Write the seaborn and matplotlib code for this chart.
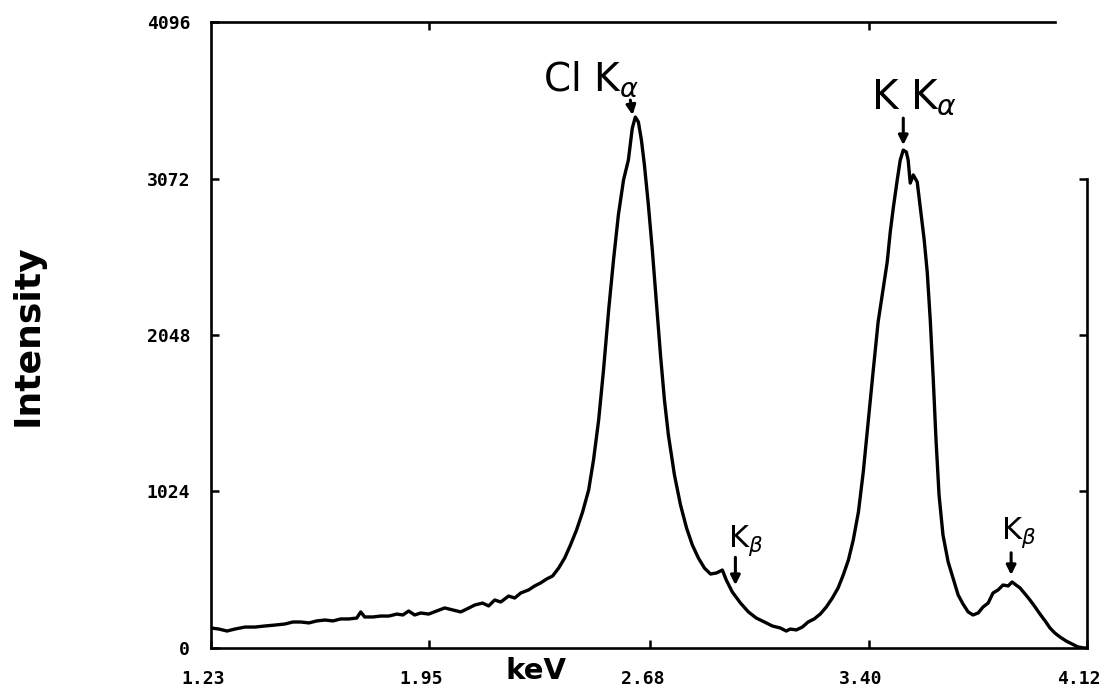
import numpy as np
import pandas as pd
import matplotlib
matplotlib.use("Agg")
import matplotlib.pyplot as plt
from matplotlib.transforms import ScaledTranslation
import seaborn as sns

# X-ray spectrum (energy in keV, counts)
energy_kev = [
    1.230, 1.256, 1.283, 1.309, 1.342, 1.375, 1.408, 1.441, 1.474, 1.500,
    1.527, 1.553, 1.579, 1.606, 1.632, 1.658, 1.685, 1.711, 1.724, 1.737,
    1.764, 1.790, 1.817, 1.843, 1.863, 1.882, 1.902, 1.922, 1.948, 1.975,
    2.001, 2.027, 2.054, 2.074, 2.100, 2.126, 2.146, 2.166, 2.186, 2.212,
    2.232, 2.252, 2.278, 2.298, 2.317, 2.337, 2.357, 2.377, 2.397, 2.416,
    2.436, 2.456, 2.476, 2.492, 2.509, 2.525, 2.542, 2.558, 2.574, 2.591,
    2.607, 2.620, 2.630, 2.640, 2.650, 2.660, 2.673, 2.686, 2.700, 2.713,
    2.726, 2.739, 2.759, 2.779, 2.799, 2.818, 2.838, 2.858, 2.878, 2.898,
    2.917, 2.930, 2.950, 2.977, 3.003, 3.029, 3.056, 3.082, 3.108, 3.128,
    3.141, 3.161, 3.181, 3.200, 3.220, 3.240, 3.260, 3.280, 3.299, 3.316,
    3.333, 3.349, 3.366, 3.382, 3.398, 3.415, 3.431, 3.448, 3.461, 3.471,
    3.481, 3.494, 3.504, 3.514, 3.524, 3.530, 3.537, 3.547, 3.560, 3.570,
    3.583, 3.593, 3.603, 3.613, 3.622, 3.632, 3.645, 3.662, 3.678, 3.695,
    3.711, 3.728, 3.744, 3.761, 3.777, 3.794, 3.810, 3.827, 3.843, 3.860,
    3.873, 3.886, 3.899, 3.916, 3.932, 3.949, 3.965, 3.982, 3.998, 4.014,
    4.031, 4.051, 4.071, 4.090, 4.110, 4.120,
]
intensity = [
    131, 124, 111, 124, 137, 137, 144, 150, 157, 170,
    170, 164, 177, 183, 177, 190, 190, 196, 236, 203,
    203, 209, 209, 222, 216, 242, 216, 229, 222, 242,
    262, 249, 236, 255, 281, 294, 275, 314, 301, 340,
    327, 360, 380, 406, 425, 451, 471, 523, 589, 674,
    772, 890, 1034, 1230, 1492, 1819, 2212, 2539, 2833, 3062,
    3193, 3402, 3474, 3442, 3324, 3160, 2899, 2604, 2244, 1917,
    1623, 1394, 1132, 936, 785, 674, 589, 523, 484, 491,
    510, 445, 366, 294, 236, 196, 170, 144, 131, 111,
    124, 118, 137, 170, 190, 222, 268, 327, 393, 478,
    576, 707, 890, 1152, 1479, 1819, 2133, 2355, 2526, 2722,
    2879, 3062, 3193, 3258, 3245, 3193, 3042, 3095, 3049, 2886,
    2670, 2460, 2146, 1754, 1361, 1001, 739, 563, 458, 347,
    288, 236, 216, 229, 268, 294, 360, 380, 412, 406,
    432, 412, 393, 353, 314, 268, 222, 177, 131, 98,
    72, 46, 26, 7, 0, 0,
]

x_ticks = [1.23, 1.95, 2.68, 3.40, 4.12]
x_tick_labels = ["1.23", "1.95", "2.68", "3.40", "4.12"]
y_ticks = [0, 1024, 2048, 3072, 4096]
y_tick_labels = ["0", "1024", "2048", "3072", "4096"]

# Line identifications
line_labels = ["Cl K$_\\alpha$", "K K$_\\alpha$", "K$_\\beta$", "K$_\\beta$"]
line_kev = [2.630, 3.514, 2.950, 3.873]

spectrum = pd.DataFrame({"keV": energy_kev, "Intensity": intensity})

sns.set_theme(style="white")
plt.rcParams["font.family"] = ["DejaVu Sans"]
plt.rcParams["mathtext.fontset"] = "dejavusans"

fig = plt.figure(figsize=(11.07, 6.92), dpi=100)
ax = fig.add_axes([0.1906, 0.0636, 0.7913, 0.9046])

sns.lineplot(data=spectrum, x="keV", y="Intensity", ax=ax, color="black",
             linewidth=2.4, estimator=None)

ax.set_xlim(1.23, 4.12)
ax.set_ylim(0, 4096)

# Frame: partial top and right borders
for side in ["left", "bottom", "top", "right"]:
    ax.spines[side].set_color("black")
    ax.spines[side].set_linewidth(1.9)
ax.spines["top"].set_bounds(1.23, 4.015)
ax.spines["right"].set_bounds(0, 3072)

tick_font = dict(family="DejaVu Sans Mono", weight="bold", size=13)
ax.set_xticks(x_ticks)
ax.set_xticklabels(x_tick_labels, fontdict=tick_font)
ax.set_yticks(y_ticks)
ax.set_yticklabels(y_tick_labels, fontdict=tick_font)
ax.tick_params(axis="x", direction="in", length=6, width=1.8, pad=16,
               bottom=True, top=False, colors="black")
ax.tick_params(axis="y", direction="in", length=6, width=1.8, pad=15,
               left=True, right=False, colors="black")
shift = ScaledTranslation(-8 / 100, 0, fig.dpi_scale_trans)
for lbl in ax.get_xticklabels():
    lbl.set_transform(lbl.get_transform() + shift)

# Extra inward ticks on the top and right borders
top = ax.secondary_xaxis("top")
top.set_xticks([1.95, 3.40])
top.set_xticklabels([])
top.tick_params(direction="in", length=6, width=1.8, colors="black")
right = ax.secondary_yaxis("right")
right.set_yticks([1024, 2048, 3072])
right.set_yticklabels([])
right.tick_params(direction="in", length=6, width=1.8, colors="black")
for sec in (top, right):
    for sp in sec.spines.values():
        sp.set_visible(False)

ax.set_xlabel("keV", fontsize=21, fontweight="bold", color="black")
ax.xaxis.set_label_coords(0.371, -0.0144)
ax.set_ylabel("Intensity", fontsize=26, fontweight="bold", color="black")
ax.yaxis.set_label_coords(-0.19, 0.5)

# Peak labels with hand-drawn style arrows
text_offsets = [(-31.7, 27.4), (8.0, 38.0), (9.4, 36.7), (5.0, 35.0)]
text_sizes = [28, 29, 22, 22]
arrow_tips = [(-2.0, 1.5), (0.0, 3.6), (2.2, 5.0), (-0.7, 5.0)]
arrow_tails = [(-3.6, 12.2), (0.0, 23.0), (2.2, 25.0), (-0.7, 21.0)]

for lab, kev, toff, size, tip, tail in zip(line_labels, line_kev, text_offsets,
                                           text_sizes, arrow_tips, arrow_tails):
    yv = float(np.interp(kev, energy_kev, intensity))
    ax.annotate(lab, xy=(kev, yv), xytext=toff, textcoords="offset points",
                ha="center", va="center", fontsize=size, color="black")
    tip_trans = ax.transData + ScaledTranslation(tip[0] / 72, tip[1] / 72,
                                                 fig.dpi_scale_trans)
    ax.annotate("", xy=(kev, yv), xycoords=tip_trans,
                xytext=(tail[0] - tip[0], tail[1] - tip[1]),
                textcoords="offset points",
                arrowprops=dict(arrowstyle="-|>", color="black", lw=2.2,
                                mutation_scale=14, shrinkA=0, shrinkB=0))

fig.savefig("out.png", dpi=100, facecolor="white")
